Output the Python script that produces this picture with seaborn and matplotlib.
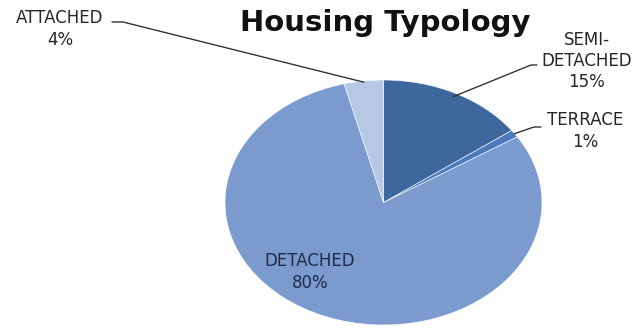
import matplotlib
matplotlib.use("Agg")
import numpy as np
import matplotlib.pyplot as plt
import seaborn as sns
from matplotlib.lines import Line2D

# Housing typology shares
categories = ["SEMI-\nDETACHED", "TERRACE", "DETACHED", "ATTACHED"]
shares = [15, 1, 80, 4]
colors = ["#3E679E", "#4A7BBF", "#7B9BCE", "#B7C8E6"]

sns.set_theme(style="white")
plt.rcParams["font.family"] = ["DejaVu Sans"]

W, H = 635, 329
fig = plt.figure(figsize=(W / 100, H / 100), dpi=100)
fig.patch.set_facecolor("white")

# Axes sized so the pie is drawn as a wide ellipse
ax = fig.add_axes([225 / W, 4 / H, 317 / W, 245 / H])
wedges, _ = ax.pie(
    shares,
    colors=colors,
    startangle=90,
    counterclock=False,
    wedgeprops=dict(edgecolor="white", linewidth=0.4),
)
ax.set_aspect("auto")
ax.set_xlim(-1, 1)
ax.set_ylim(-1, 1)
ax.axis("off")

fig.text(385 / W, 1 - 23 / H, "Housing Typology", fontsize=21,
         fontweight="bold", color="#111111", ha="center", va="center")

# mid-angle of each slice (clockwise from 12 o'clock)
cum = np.cumsum([0] + shares[:-1])
mids = [90 - 360 * (c + s / 2) / 100 for c, s in zip(cum, shares)]


def px(x, y_top):
    """Convert pixel coords measured from the top-left to display coords."""
    return x, H - y_top


label_font = dict(fontsize=12, color="#262626", ha="center", va="center",
                  linespacing=1.22)

# outside labels: (index, text centre, elbow points, anchor radius)
outside = [
    (0, (587, 61), [(537, 65), (531, 65)], 0.97),
    (1, (585, 131), [(541, 127), (534, 127)], 1.0),
    (3, (60, 29), [(112, 22), (123, 22)], 0.99),
]

for i, (cx, cy), elbow, r in outside:
    fig.text(cx / W, 1 - cy / H, f"{categories[i]}\n{shares[i]}%", **label_font)
    ang = np.deg2rad(mids[i])
    ax_pt = ax.transData.transform((r * np.cos(ang), r * np.sin(ang)))
    pts = [px(*p) for p in elbow] + [tuple(ax_pt)]
    xs, ys = zip(*pts)
    fig.add_artist(Line2D(xs, ys, color="#333333", linewidth=1.0,
                          transform=None))

# inside label for the largest slice
fig.text(310 / W, 1 - 272 / H, f"{categories[2]}\n{shares[2]}%",
         fontsize=12, color="#1f2b48", ha="center", va="center",
         linespacing=1.22)

fig.savefig("out.png", dpi=100, facecolor="white")
